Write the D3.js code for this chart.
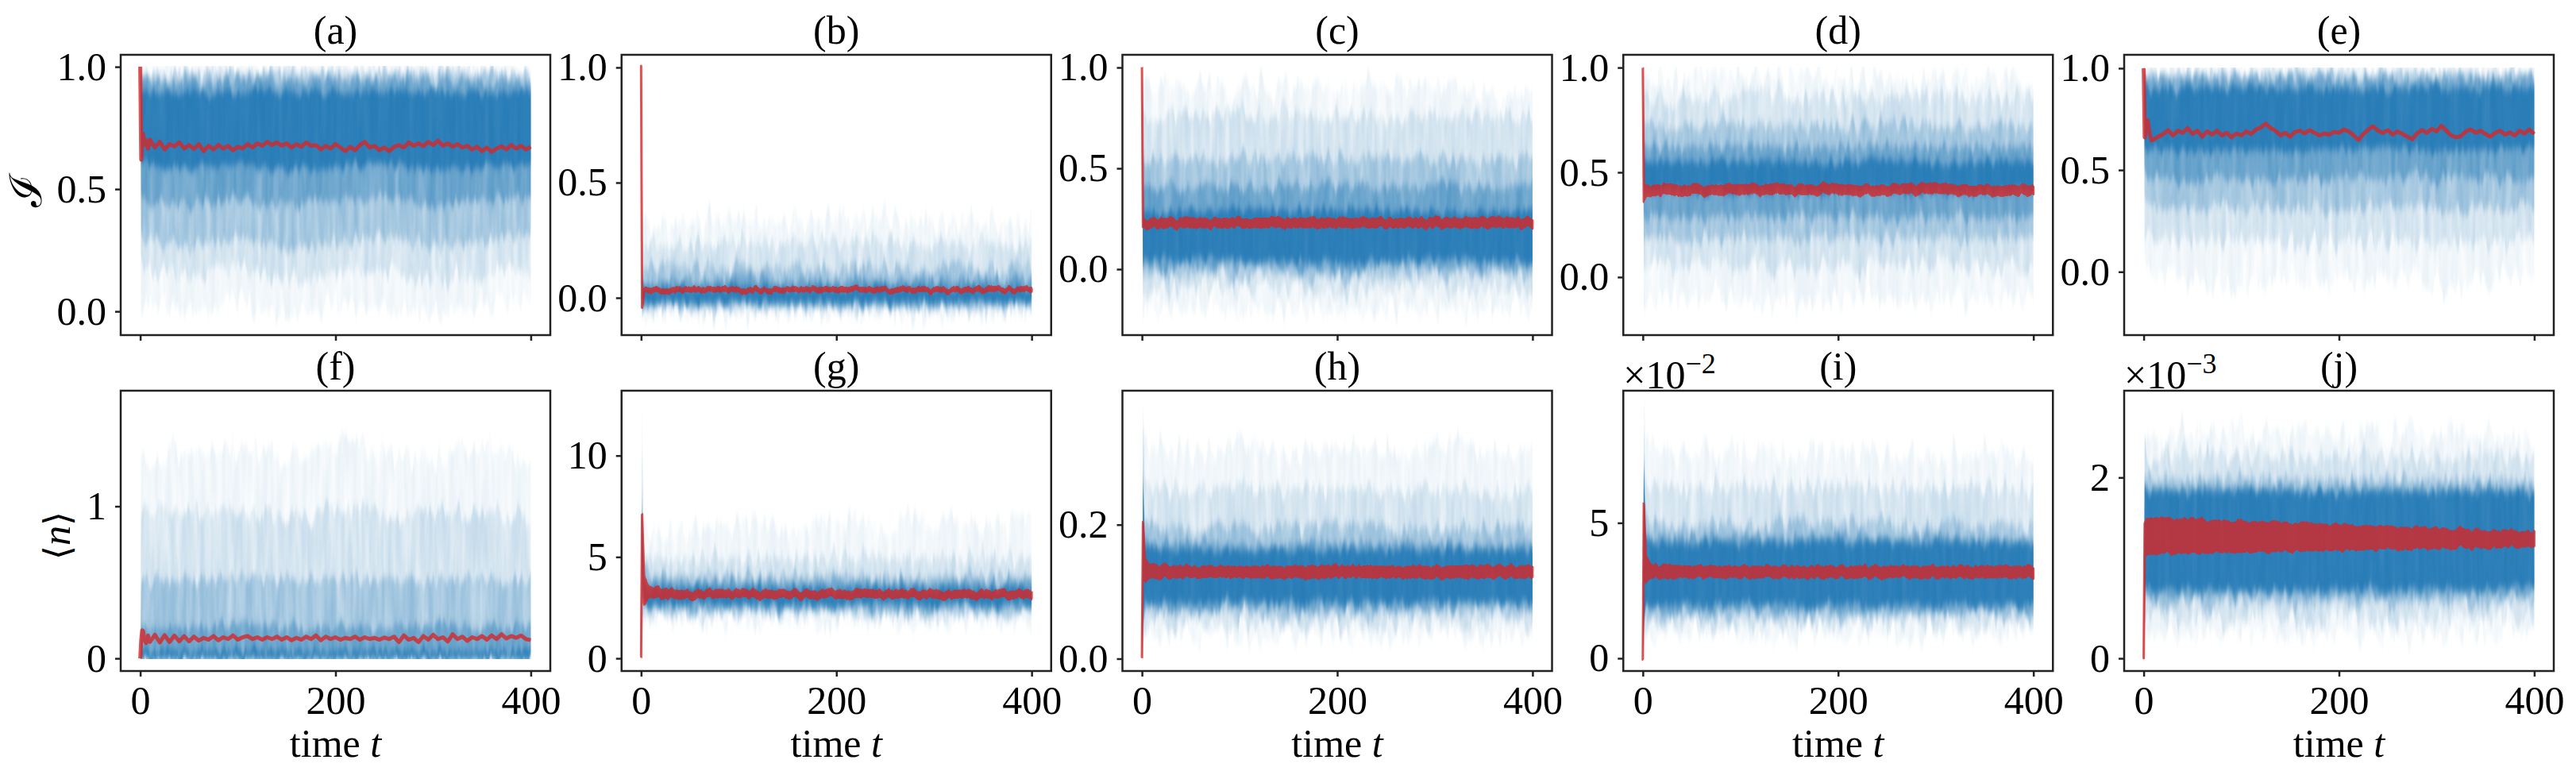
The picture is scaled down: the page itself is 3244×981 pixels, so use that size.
<!DOCTYPE html>
<html>
<head>
<meta charset="utf-8">
<script src="https://cdn.jsdelivr.net/npm/d3@7"></script>
<style>
  body { margin: 0; background: #fff; }
  text { font-family: "Liberation Serif", "DejaVu Serif", serif; fill: #000; }
</style>
</head>
<body>
<svg id="chart" width="3244" height="981"></svg>
<script>
// ---- data ----
var panelTitles = ["(a)", "(b)", "(c)", "(d)", "(e)", "(f)", "(g)", "(h)", "(i)", "(j)"];
var xLimits = [-20, 420];
var xTickVals = [0, 200, 400];

var yLimits = [[-0.097, 1.049], [-0.162, 1.055], [-0.327, 1.063], [-0.277, 1.061], [-0.311, 1.066],
               [-0.083, 1.76], [-0.625, 13.2], [-0.0184, 0.400], [-0.47, 9.88], [-0.14, 2.96]];
var yTickVals = [[0, 0.5, 1], [0, 0.5, 1], [0, 0.5, 1], [0, 0.5, 1], [0, 0.5, 1],
                 [0, 1], [0, 5, 10], [0, 0.2], [0, 5], [0, 2]];
var yTickText = [["0.0", "0.5", "1.0"], ["0.0", "0.5", "1.0"], ["0.0", "0.5", "1.0"], ["0.0", "0.5", "1.0"], ["0.0", "0.5", "1.0"],
                 ["0", "1"], ["0", "5", "10"], ["0.0", "0.2"], ["0", "5"], ["0", "2"]];
var yExponent = [null, null, null, null, null, null, null, null, "\u22122", "\u22123"];
// hard bounds of the quantity (I <= 1, <n> >= 0)
var valueCeil = [1, 1, 1, 1, 1, null, null, null, null, null];
var valueFloor = [null, null, null, null, null, 0, 0, 0, 0, 0];

// time samples for the ensemble envelopes
var bandT = [0, 1, 3, 8, 50, 100, 150, 200, 250, 300, 350, 400];

// ensemble of trajectories, as density levels: faint, light, medium, dark, core
// each level = [lower edge, upper edge] on bandT
var bandsA = [
  [[1,0.02,0.0,0.03,0.0,0.04,-0.02,0.03,0.01,-0.01,0.03,0.05], [1,0.99,0.99,0.99,0.99,0.995,0.99,0.995,0.99,0.99,0.99,0.985]],
  [[1,0.18,0.17,0.16,0.14,0.18,0.13,0.16,0.18,0.12,0.16,0.18], [1,0.985,0.98,0.985,0.98,0.985,0.98,0.98,0.985,0.98,0.98,0.975]],
  [[1,0.32,0.3,0.29,0.27,0.3,0.26,0.28,0.31,0.26,0.29,0.31], [1,0.97,0.97,0.97,0.965,0.97,0.97,0.965,0.97,0.97,0.965,0.965]],
  [[1,0.48,0.46,0.45,0.44,0.46,0.43,0.45,0.47,0.44,0.45,0.46], [1,0.95,0.95,0.95,0.94,0.95,0.95,0.94,0.95,0.95,0.94,0.94]],
  [[1,0.62,0.6,0.6,0.58,0.6,0.58,0.59,0.61,0.58,0.59,0.6], [1,0.9,0.91,0.9,0.89,0.9,0.9,0.89,0.9,0.9,0.89,0.9]]
];
var bandsB = [
  [[1,-0.1,-0.08,-0.075,-0.07,-0.075,-0.07,-0.08,-0.07,-0.075,-0.07,-0.065], [1,0.36,0.33,0.31,0.32,0.35,0.33,0.34,0.35,0.32,0.33,0.31]],
  [[1,-0.07,-0.055,-0.05,-0.05,-0.05,-0.05,-0.055,-0.05,-0.05,-0.05,-0.045], [1,0.26,0.24,0.23,0.23,0.25,0.24,0.24,0.25,0.23,0.24,0.23]],
  [[1,-0.05,-0.04,-0.035,-0.035,-0.035,-0.035,-0.04,-0.035,-0.035,-0.035,-0.03], [1,0.16,0.14,0.13,0.13,0.14,0.13,0.13,0.14,0.13,0.13,0.13]],
  [[1,-0.04,-0.03,-0.025,-0.025,-0.025,-0.025,-0.03,-0.025,-0.025,-0.025,-0.02], [1,0.1,0.085,0.08,0.08,0.085,0.08,0.08,0.085,0.08,0.08,0.08]],
  [[1,-0.03,-0.02,-0.02,-0.02,-0.02,-0.02,-0.02,-0.02,-0.02,-0.02,-0.015], [1,0.06,0.05,0.045,0.045,0.05,0.045,0.045,0.05,0.045,0.045,0.045]]
];
var bandsC = [
  [[1,-0.24,-0.21,-0.2,-0.19,-0.21,-0.2,-0.22,-0.2,-0.19,-0.2,-0.19], [1,0.9,0.89,0.9,0.91,0.9,0.9,0.89,0.9,0.9,0.88,0.87]],
  [[1,-0.12,-0.1,-0.1,-0.09,-0.1,-0.1,-0.11,-0.1,-0.1,-0.1,-0.1], [1,0.78,0.77,0.77,0.76,0.77,0.78,0.77,0.76,0.77,0.76,0.75]],
  [[1,-0.04,-0.03,-0.03,-0.02,-0.03,-0.03,-0.04,-0.03,-0.03,-0.03,-0.03], [1,0.56,0.55,0.54,0.55,0.56,0.55,0.55,0.56,0.55,0.54,0.55]],
  [[1,0.0,0.01,0.01,0.01,0.01,0.01,0.0,0.01,0.01,0.01,0.01], [1,0.42,0.41,0.4,0.41,0.42,0.41,0.41,0.42,0.41,0.4,0.41]],
  [[1,0.04,0.04,0.04,0.05,0.04,0.04,0.03,0.04,0.04,0.04,0.04], [1,0.3,0.29,0.28,0.29,0.3,0.29,0.29,0.3,0.29,0.28,0.29]]
];
var bandsD = [
  [[1,-0.16,-0.12,-0.1,-0.09,-0.1,-0.12,-0.09,-0.1,-0.11,-0.09,-0.1], [1,0.96,0.95,0.95,0.95,0.96,0.95,0.95,0.95,0.95,0.95,0.94]],
  [[1,0.04,0.05,0.06,0.05,0.06,0.05,0.06,0.05,0.06,0.05,0.06], [1,0.88,0.87,0.87,0.86,0.87,0.87,0.86,0.87,0.86,0.87,0.86]],
  [[1,0.17,0.18,0.19,0.18,0.19,0.18,0.19,0.18,0.19,0.18,0.19], [1,0.74,0.73,0.72,0.72,0.73,0.72,0.72,0.73,0.72,0.72,0.72]],
  [[1,0.27,0.28,0.29,0.28,0.29,0.28,0.29,0.28,0.29,0.28,0.29], [1,0.64,0.63,0.62,0.62,0.63,0.62,0.62,0.63,0.62,0.62,0.62]],
  [[1,0.4,0.41,0.41,0.4,0.41,0.4,0.41,0.4,0.41,0.4,0.41], [1,0.56,0.55,0.55,0.55,0.56,0.55,0.55,0.56,0.55,0.55,0.55]]
];
var bandsE = [
  [[1,0.05,0.0,-0.02,-0.05,-0.06,-0.03,-0.05,-0.02,-0.06,-0.04,-0.03], [1,0.995,0.995,0.99,0.995,0.99,0.995,0.99,0.995,0.99,0.995,0.99]],
  [[1,0.2,0.18,0.16,0.15,0.16,0.14,0.15,0.16,0.14,0.15,0.16], [1,0.985,0.98,0.98,0.98,0.98,0.98,0.98,0.98,0.98,0.98,0.98]],
  [[1,0.36,0.34,0.32,0.31,0.32,0.3,0.31,0.32,0.3,0.31,0.32], [1,0.97,0.97,0.97,0.97,0.97,0.97,0.97,0.97,0.97,0.97,0.97]],
  [[1,0.5,0.48,0.46,0.45,0.46,0.45,0.46,0.47,0.45,0.46,0.47], [1,0.95,0.95,0.95,0.95,0.95,0.95,0.95,0.95,0.95,0.95,0.95]],
  [[1,0.62,0.6,0.6,0.59,0.6,0.59,0.6,0.61,0.59,0.6,0.61], [1,0.9,0.91,0.9,0.9,0.9,0.91,0.9,0.9,0.91,0.9,0.9]]
];
var bandsF = [
  [[0,0,0,0,0,0,0,0,0,0,0,0], [0,1.3,1.35,1.3,1.35,1.4,1.3,1.4,1.35,1.3,1.4,1.3]],
  [[0,0,0,0,0,0,0,0,0,0,0,0], [0,0.95,0.97,0.96,0.95,0.97,0.95,0.96,0.97,0.95,0.96,0.94]],
  [[0,0,0,0,0,0,0,0,0,0,0,0], [0,0.52,0.53,0.52,0.51,0.53,0.52,0.52,0.53,0.51,0.52,0.51]],
  [[0,0,0,0,0,0,0,0,0,0,0,0], [0,0.22,0.22,0.21,0.21,0.22,0.21,0.21,0.22,0.21,0.21,0.21]],
  [[0,0,0,0,0,0,0,0,0,0,0,0], [0,0.06,0.055,0.05,0.05,0.055,0.05,0.05,0.055,0.05,0.05,0.05]]
];
var bandsG = [
  [[0,0.5,1.9,1.9,1.85,1.9,1.8,1.85,1.9,1.85,1.9,1.8], [0,12.6,7.2,6.4,6.3,6.7,6.4,6.9,6.5,6.6,6.8,6.5]],
  [[0,1.2,2.1,2.15,2.1,2.15,2.1,2.1,2.15,2.1,2.1,2.1], [0,10.5,5.5,5.0,4.9,5.0,4.9,5.0,4.95,4.9,5.0,4.9]],
  [[0,2.0,2.3,2.35,2.3,2.35,2.3,2.3,2.35,2.3,2.3,2.3], [0,8.5,4.5,4.15,4.05,4.1,4.05,4.1,4.05,4.05,4.1,4.05]],
  [[0,3.0,2.5,2.5,2.5,2.5,2.45,2.5,2.5,2.45,2.5,2.5], [0,7.8,4.0,3.8,3.75,3.8,3.75,3.8,3.75,3.75,3.8,3.75]],
  [[0,4.5,2.65,2.68,2.66,2.68,2.65,2.67,2.68,2.65,2.67,2.66], [0,7.4,3.6,3.5,3.48,3.5,3.47,3.5,3.48,3.47,3.5,3.48]]
];
var bandsH = [
  [[0,0.02,0.036,0.035,0.034,0.035,0.033,0.035,0.034,0.036,0.034,0.035], [0,0.38,0.33,0.31,0.31,0.32,0.31,0.32,0.31,0.32,0.31,0.3]],
  [[0,0.035,0.05,0.052,0.051,0.052,0.05,0.052,0.051,0.052,0.051,0.052], [0,0.34,0.27,0.255,0.25,0.26,0.25,0.255,0.25,0.255,0.25,0.25]],
  [[0,0.05,0.066,0.068,0.067,0.068,0.066,0.068,0.067,0.068,0.067,0.068], [0,0.3,0.205,0.197,0.195,0.197,0.195,0.197,0.195,0.196,0.195,0.195]],
  [[0,0.06,0.075,0.077,0.076,0.077,0.075,0.077,0.076,0.077,0.076,0.077], [0,0.27,0.18,0.173,0.171,0.172,0.17,0.172,0.171,0.172,0.171,0.17]],
  [[0,0.07,0.082,0.084,0.083,0.084,0.082,0.084,0.083,0.084,0.083,0.084], [0,0.25,0.17,0.164,0.162,0.163,0.162,0.163,0.162,0.163,0.162,0.162]]
];
var bandsI = [
  [[0,0.5,0.9,0.9,0.85,0.9,0.8,0.85,0.9,0.85,0.9,0.95], [0,9.4,8.0,7.6,7.5,7.6,7.5,7.7,7.5,7.6,7.5,7.4]],
  [[0,0.8,1.25,1.25,1.2,1.25,1.2,1.25,1.25,1.2,1.25,1.3], [0,8.6,6.6,6.35,6.3,6.35,6.3,6.4,6.3,6.35,6.3,6.25]],
  [[0,1.0,1.55,1.55,1.5,1.55,1.5,1.55,1.55,1.5,1.55,1.6], [0,7.6,5.2,4.95,4.9,4.95,4.9,5.0,4.9,4.95,4.9,4.85]],
  [[0,1.2,1.78,1.78,1.75,1.78,1.75,1.78,1.78,1.75,1.78,1.8], [0,7.2,4.7,4.5,4.45,4.5,4.45,4.5,4.45,4.5,4.45,4.4]],
  [[0,1.4,1.95,1.96,1.94,1.96,1.94,1.96,1.96,1.94,1.96,1.98], [0,7.05,4.5,4.3,4.28,4.3,4.27,4.3,4.28,4.3,4.27,4.25]]
];
var bandsJ = [
  [[0,0.3,0.3,0.28,0.25,0.27,0.24,0.26,0.25,0.27,0.26,0.3], [0,2.6,2.5,2.45,2.5,2.55,2.5,2.45,2.5,2.48,2.5,2.4]],
  [[0,0.45,0.45,0.44,0.42,0.44,0.41,0.43,0.42,0.44,0.43,0.46], [0,2.3,2.25,2.22,2.24,2.26,2.24,2.22,2.24,2.23,2.24,2.2]],
  [[0,0.6,0.62,0.61,0.6,0.61,0.59,0.6,0.6,0.61,0.6,0.63], [0,2.05,2.0,1.98,1.99,2.0,1.99,1.98,1.99,1.98,1.99,1.96]],
  [[0,0.7,0.72,0.71,0.7,0.71,0.69,0.7,0.7,0.71,0.7,0.73], [0,1.95,1.9,1.88,1.89,1.9,1.89,1.88,1.89,1.88,1.89,1.87]],
  [[0,0.76,0.78,0.77,0.76,0.77,0.75,0.76,0.76,0.77,0.76,0.79], [0,1.9,1.85,1.84,1.85,1.86,1.85,1.84,1.85,1.84,1.85,1.83]]
];

// ensemble mean, drawn as a line (a, e, f)
var meanT = [0, 1, 2, 3, 4, 6, 8].concat(d3.range(10, 401, 5));
var meanA = [1.0, 0.62, 0.70, 0.725, 0.68, 0.70, 0.665,
  0.702,0.670,0.693,0.662,0.684,0.675,0.691,0.666,0.680,0.664,0.684,0.655,0.677,0.662,0.680,0.666,0.677,0.659,0.673,0.666,
  0.684,0.670,0.687,0.677,0.693,0.680,0.691,0.677,0.687,0.670,0.684,0.673,0.691,0.677,0.680,0.662,0.677,0.666,0.684,0.670,
  0.655,0.673,0.659,0.680,0.693,0.670,0.677,0.659,0.670,0.655,0.673,0.680,0.670,0.691,0.677,0.687,0.675,0.693,0.680,0.698,
  0.677,0.687,0.673,0.684,0.670,0.677,0.662,0.673,0.655,0.670,0.652,0.666,0.675,0.662,0.680,0.666,0.677,0.662,0.673];
var meanE = [1.0, 0.66, 0.70, 0.735, 0.745, 0.68, 0.645,
  0.650,0.664,0.677,0.696,0.670,0.693,0.683,0.706,0.677,0.693,0.664,0.690,0.674,0.693,0.670,0.683,0.661,0.680,0.670,0.690,
  0.677,0.699,0.709,0.728,0.706,0.693,0.670,0.683,0.664,0.687,0.693,0.680,0.696,0.683,0.670,0.680,0.674,0.687,0.683,0.699,
  0.690,0.670,0.648,0.677,0.699,0.715,0.693,0.683,0.696,0.674,0.690,0.677,0.664,0.651,0.680,0.696,0.683,0.702,0.690,0.717,
  0.693,0.670,0.661,0.667,0.690,0.699,0.683,0.693,0.677,0.664,0.683,0.693,0.674,0.685,0.670,0.693,0.680,0.699,0.677];
var meanF = [0, 0.12, 0.185, 0.18, 0.13, 0.10, 0.15,
  0.108,0.155,0.105,0.152,0.108,0.15,0.112,0.146,
  0.112,0.143,0.117,0.135,0.123,0.147,0.119,0.139,0.127,0.151,0.123,0.139,
  0.147,0.127,0.139,0.123,0.139,0.127,0.143,0.123,0.139,0.119,0.135,0.123,0.143,0.127,0.151,0.119,0.143,0.127,0.139,0.123,
  0.135,0.127,0.143,0.123,0.139,0.127,0.135,0.123,0.137,0.127,0.143,0.107,0.151,0.123,0.135,0.107,0.147,0.123,0.155,0.127,
  0.139,0.111,0.159,0.127,0.143,0.115,0.139,0.127,0.147,0.123,0.151,0.127,0.159,0.131,0.147,0.135,0.151,0.127,0.12];

// ensemble mean, drawn as a noisy band [low, high] on bandT (b, c, d, g, h, i, j)
var meanBandB = [[1,-0.04,0.026,0.027,0.027,0.028,0.027,0.028,0.027,0.027,0.028,0.027], [1,-0.02,0.044,0.042,0.042,0.043,0.042,0.043,0.042,0.042,0.043,0.042]];
var meanBandC = [[1,0.205,0.207,0.208,0.208,0.21,0.209,0.21,0.21,0.209,0.21,0.21], [1,0.255,0.25,0.248,0.248,0.25,0.25,0.252,0.25,0.25,0.254,0.25]];
var meanBandD = [[1,0.37,0.39,0.395,0.396,0.398,0.396,0.398,0.397,0.398,0.397,0.396], [1,0.41,0.44,0.438,0.436,0.438,0.437,0.438,0.437,0.44,0.437,0.436]];
var meanBandG = [[0,7.1,2.7,2.95,3.0,3.0,3.0,3.0,3.0,3.0,3.0,3.0], [0,7.2,4.0,3.45,3.32,3.33,3.32,3.33,3.32,3.33,3.32,3.32]];
var meanBandH = [[0,0.198,0.115,0.12,0.122,0.122,0.121,0.122,0.122,0.121,0.122,0.122], [0,0.203,0.15,0.14,0.137,0.137,0.137,0.138,0.137,0.137,0.138,0.137]];
var meanBandI = [[0,5.55,2.85,2.98,3.0,3.0,2.99,3.0,3.0,2.99,3.0,3.0], [0,5.65,3.75,3.45,3.38,3.38,3.37,3.38,3.38,3.37,3.38,3.38]];
var meanBandJ = [[0,1.15,1.15,1.16,1.17,1.18,1.19,1.2,1.21,1.22,1.23,1.24], [0,1.5,1.54,1.545,1.53,1.51,1.49,1.47,1.45,1.43,1.41,1.40]];

var bands = [bandsA, bandsB, bandsC, bandsD, bandsE, bandsF, bandsG, bandsH, bandsI, bandsJ];
var meanLines = [meanA, null, null, null, meanE, meanF, null, null, null, null];
var meanBands = [null, meanBandB, meanBandC, meanBandD, null, null, meanBandG, meanBandH, meanBandI, meanBandJ];

// ---- layout / style ----
var svg = d3.select("#chart"),
  margin = { "left": 152, "top": 69 },
  panelW = 541,
  panelH = 353,
  colStep = 630.75,
  rowStep = 423,
  fontSize = 50;
var blue = "#1f77b4",
  red = "#d62728",
  levelAlpha = [0.09, 0.18, 0.32, 0.5, 0.85],
  levelJag = [70, 55, 42, 32, 22],          // edge raggedness of each level (px)
  levelStreak = [[1.6, -0.1], [1.3, 0.1], [1.0, 0.3], [0.7, 0.5], [0.35, 0.8]];

svg.append("rect").attr("width", 3244).attr("height", 981).attr("fill", "#fff");
var defs = svg.append("defs");

// texture filter: ragged vertical streaks, so each envelope reads like many overlapping thin lines
function streakFilter(id, seed, jag, streak, blurY) {
  var f = defs.append("filter").attr("id", id)
    .attr("filterUnits", "userSpaceOnUse")
    .attr("x", -60).attr("y", -200).attr("width", 700).attr("height", 800)
    .attr("color-interpolation-filters", "sRGB");
  f.append("feTurbulence").attr("type", "fractalNoise")
    .attr("baseFrequency", "0.14 0.009").attr("numOctaves", 2)
    .attr("seed", seed).attr("result", "noise");
  f.append("feColorMatrix").attr("in", "noise").attr("type", "matrix")
    .attr("values", "1 0 0 0 0  0 0 0 0 0.5  0 0 0 0 0  0 0 0 0 1").attr("result", "disp");
  f.append("feDisplacementMap").attr("in", "SourceGraphic").attr("in2", "disp")
    .attr("scale", jag).attr("xChannelSelector", "G").attr("yChannelSelector", "R").attr("result", "jag");
  f.append("feGaussianBlur").attr("in", "jag").attr("stdDeviation", "0.4 " + blurY).attr("result", "soft");
  f.append("feColorMatrix").attr("in", "noise").attr("type", "matrix")
    .attr("values", "0 0 0 0 0  0 0 0 0 0  0 0 0 0 0  0 " + streak[0] + " 0 0 " + streak[1]).attr("result", "mask");
  f.append("feComposite").attr("in", "soft").attr("in2", "mask").attr("operator", "in");
}

panelTitles.forEach(function(title, i) {
  var col = i % 5,
    row = Math.floor(i / 5),
    left = margin.left + col * colStep,
    top = margin.top + row * rowStep;
  var g = svg.append("g").attr("transform", "translate(" + left + "," + top + ")");

  var x = d3.scaleLinear().domain(xLimits).range([0, panelW]);
  var y = d3.scaleLinear().domain(yLimits[i]).range([panelH, 0]);

  g.append("clipPath").attr("id", "clip" + i)
    .append("rect").attr("width", panelW).attr("height", panelH);
  var yTopClip = valueCeil[i] !== null ? y(valueCeil[i]) - 1 : 0,
    yBotClip = valueFloor[i] !== null ? y(valueFloor[i]) + 1 : panelH;
  g.append("clipPath").attr("id", "eclip" + i)
    .append("rect").attr("y", yTopClip).attr("width", panelW).attr("height", yBotClip - yTopClip);

  var plot = g.append("g").attr("clip-path", "url(#clip" + i + ")");
  var ens = plot.append("g").attr("clip-path", "url(#eclip" + i + ")");

  // Ensemble envelopes, lightest first
  bands[i].forEach(function(level, k) {
    var fid = "st" + i + "_" + k;
    streakFilter(fid, 7 + i * 11 + k * 3, levelJag[k], levelStreak[k], 5);
    var area = d3.area()
      .x(function(d, j) { return x(bandT[j]); })
      .y0(function(d, j) { return y(level[0][j]); })
      .y1(function(d, j) { return y(level[1][j]); });
    ens.append("path")
      .attr("d", area(bandT))
      .attr("fill", blue)
      .attr("fill-opacity", levelAlpha[k])
      .attr("filter", "url(#" + fid + ")");
  });

  // Ensemble mean
  if (meanLines[i]) {
    var line = d3.line()
      .x(function(d, j) { return x(meanT[j]); })
      .y(function(d) { return y(d); });
    plot.append("path")
      .attr("d", line(meanLines[i]))
      .attr("fill", "none")
      .attr("stroke", red)
      .attr("stroke-opacity", 0.8)
      .attr("stroke-width", 5)
      .attr("stroke-linejoin", "round");
  }
  if (meanBands[i]) {
    var mb = meanBands[i];
    var rid = "rj" + i;
    streakFilter(rid, 3 + i, 10, [0, 1], 0.5);
    var redArea = d3.area()
      .x(function(d, j) { return x(bandT[j]); })
      .y0(function(d, j) { return y(mb[0][j]); })
      .y1(function(d, j) { return y(mb[1][j]); });
    plot.append("path")
      .attr("d", redArea(bandT))
      .attr("fill", red)
      .attr("stroke", red)
      .attr("stroke-width", 3)
      .attr("stroke-linejoin", "round")
      .attr("opacity", 0.8)
      .attr("filter", "url(#" + rid + ")");
  }

  // Axes
  var yAxis = g.append("g")
    .call(d3.axisLeft(y).tickValues(yTickVals[i])
      .tickFormat(function(d, j) { return yTickText[i][j]; })
      .tickSize(7).tickPadding(11));
  var xAxis = g.append("g")
    .attr("transform", "translate(0," + panelH + ")")
    .call(d3.axisBottom(x).tickValues(xTickVals)
      .tickFormat(row === 1 ? d3.format("d") : "")
      .tickSize(7).tickPadding(11));
  [yAxis, xAxis].forEach(function(ax) {
    ax.attr("font-family", null).attr("font-size", fontSize);
    ax.select(".domain").remove();
    ax.selectAll(".tick line").attr("stroke", "#222").attr("stroke-width", 2.5);
    ax.selectAll(".tick text").attr("fill", "#000");
  });

  g.append("rect")
    .attr("width", panelW).attr("height", panelH)
    .attr("fill", "none").attr("stroke", "#222").attr("stroke-width", 2.5);

  g.append("text")
    .attr("x", panelW / 2).attr("y", -14)
    .attr("text-anchor", "middle")
    .attr("font-size", fontSize)
    .text(title);

  if (yExponent[i]) {
    var off = g.append("text").attr("x", 0).attr("y", -3).attr("font-size", fontSize);
    off.append("tspan").text("\u00d710");
    off.append("tspan").attr("dy", -19).attr("font-size", 36).text(yExponent[i]);
  }

  if (row === 1) {
    var xl = g.append("text")
      .attr("x", panelW / 2).attr("y", panelH + 108)
      .attr("text-anchor", "middle")
      .attr("font-size", fontSize);
    xl.append("tspan").text("time ");
    xl.append("tspan").attr("font-style", "italic").text("t");
  }
});

// y labels
svg.append("text")
  .attr("transform", "translate(52," + (margin.top + panelH / 2 - 6) + ") rotate(-90)")
  .attr("text-anchor", "middle")
  .attr("font-size", 56)
  .style("font-family", "'DejaVu Serif', serif")
  .text("\u2110");
var nl = svg.append("text")
  .attr("transform", "translate(88," + (margin.top + rowStep + panelH / 2 + 6) + ") rotate(-90)")
  .attr("text-anchor", "middle")
  .attr("font-size", fontSize);
nl.append("tspan").style("font-family", "'DejaVu Serif', serif").attr("font-size", 46).text("\u27e8");
nl.append("tspan").attr("font-style", "italic").text("n");
nl.append("tspan").style("font-family", "'DejaVu Serif', serif").attr("font-size", 46).text("\u27e9");
</script>
</body>
</html>
